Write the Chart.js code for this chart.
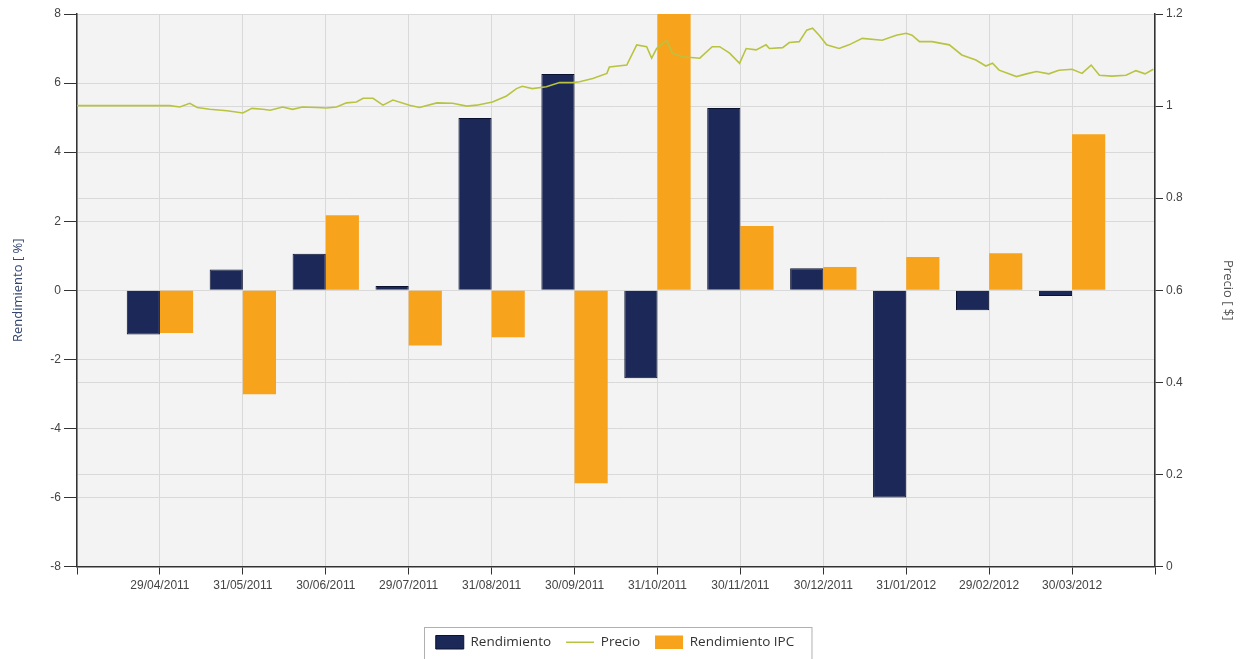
<!DOCTYPE html>
<html>
<head>
<meta charset="utf-8">
<script src="https://cdn.jsdelivr.net/npm/chart.js@4"></script>
<style>
  html, body { margin: 0; padding: 0; background: #fff; }
  #wrap { width: 1246px; height: 659px; position: relative; }
</style>
</head>
<body>
<div id="wrap"><canvas id="chart"></canvas></div>
<script>
// rendimiento mensual vs IPC, con precio diario en eje derecho

const fechas = ['29/04/2011', '31/05/2011', '30/06/2011', '29/07/2011', '31/08/2011', '30/09/2011',
  '31/10/2011', '30/11/2011', '30/12/2011', '31/01/2012', '29/02/2012', '30/03/2012'];

const rendimiento = [-1.28, 0.60, 1.06, 0.12, 4.99, 6.26, -2.55, 5.28, 0.64, -6.0, -0.58, -0.17];
const rendimientoIPC = [-1.24, -3.01, 2.17, -1.60, -1.36, -5.59, 8.0, 1.86, 0.67, 0.96, 1.07, 4.52];

// precio: posicion en meses (0 = 29/04/2011) y valor en $
const precioMes = [-1.0, 0.12, 0.24, 0.36, 0.45, 0.60, 0.81, 1.00, 1.11, 1.24, 1.33, 1.48, 1.60, 1.72,
  1.89, 2.01, 2.13, 2.25, 2.37, 2.45, 2.57, 2.69, 2.81, 3.01, 3.13, 3.34, 3.53, 3.70, 3.82, 4.01,
  4.18, 4.30, 4.37, 4.49, 4.66, 4.82, 4.98, 5.06, 5.22, 5.39, 5.42, 5.63, 5.75, 5.87, 5.93, 5.99,
  6.11, 6.18, 6.30, 6.51, 6.66, 6.75, 6.87, 6.99, 7.07, 7.19, 7.31, 7.35, 7.51, 7.59, 7.71, 7.80,
  7.87, 7.95, 8.04, 8.19, 8.31, 8.47, 8.71, 8.88, 9.00, 9.07, 9.16, 9.31, 9.52, 9.67, 9.84, 9.96,
  10.04, 10.12, 10.33, 10.45, 10.57, 10.72, 10.84, 11.00, 11.12, 11.23, 11.33, 11.48, 11.65, 11.77,
  11.88, 11.98];
const precio = [1.001, 1.001, 0.998, 1.006, 0.997, 0.993, 0.990, 0.985, 0.995, 0.993, 0.991, 0.998,
  0.993, 0.998, 0.997, 0.996, 0.998, 1.007, 1.009, 1.017, 1.017, 1.002, 1.013, 1.002, 0.997, 1.007,
  1.006, 1.000, 1.002, 1.009, 1.022, 1.038, 1.043, 1.038, 1.042, 1.051, 1.051, 1.053, 1.060, 1.071,
  1.085, 1.089, 1.133, 1.129, 1.104, 1.125, 1.143, 1.115, 1.107, 1.104, 1.129, 1.129, 1.115, 1.093,
  1.125, 1.122, 1.133, 1.125, 1.127, 1.138, 1.140, 1.165, 1.169, 1.154, 1.133, 1.125, 1.133, 1.147,
  1.143, 1.154, 1.158, 1.154, 1.140, 1.140, 1.133, 1.111, 1.100, 1.087, 1.093, 1.078, 1.064, 1.070,
  1.075, 1.070, 1.078, 1.080, 1.071, 1.089, 1.067, 1.065, 1.067, 1.077, 1.070, 1.080];

const ticksIzq = [-8, 8, 2];
const ticksDer = [0, 1.2, 0.2];

Chart.defaults.font.family = "'Liberation Sans', Arial, sans-serif";
Chart.defaults.font.size = 12;
Chart.defaults.color = '#444';

const plotBg = {
  id: 'plotBg',
  beforeDraw(chart) {
    const { ctx, chartArea: a } = chart;
    ctx.save();
    ctx.fillStyle = '#f3f3f3';
    ctx.fillRect(a.left, a.top, a.right - a.left, a.bottom - a.top);
    ctx.restore();
  }
};

const legendBorder = {
  id: 'legendBorder',
  afterLayout(chart) {
    // la leyenda del original queda algo a la izquierda del centro
    chart.legend.left -= 8;
    chart.legend.right -= 8;
  },
  afterDraw(chart) {
    const boxes = chart.legend.legendHitBoxes;
    if (!boxes || !boxes.length) return;
    const left = Math.min(...boxes.map(b => b.left)) - 12;
    const right = Math.max(...boxes.map(b => b.left + b.width)) + 17;
    const top = boxes[0].top - 9;
    const ctx = chart.ctx;
    ctx.save();
    ctx.strokeStyle = '#b0b0b0';
    ctx.lineWidth = 1;
    ctx.strokeRect(Math.round(left) + 0.5, Math.round(top) + 0.5, right - left, 45);
    ctx.restore();
  }
};

const gridColor = '#d9d9d9';
const axisColor = '#333';

new Chart(document.getElementById('chart'), {
  type: 'bar',
  data: {
    datasets: [
      {
        label: 'Rendimiento',
        data: rendimiento.map((v, i) => ({ x: i, y: v })),
        backgroundColor: '#1b2858',
        borderColor: '#0b1230',
        borderWidth: 1,
        yAxisID: 'y',
        pointStyle: 'rect',
        categoryPercentage: 0.8,
        barPercentage: 1.0
      },
      {
        type: 'line',
        label: 'Precio',
        data: precioMes.map((m, i) => ({ x: m, y: precio[i] })),
        borderColor: '#b9c340',
        backgroundColor: '#b9c340',
        borderWidth: 1.6,
        pointRadius: 0,
        pointStyle: 'line',
        tension: 0,
        yAxisID: 'y1',
        order: -1
      },
      {
        label: 'Rendimiento IPC',
        data: rendimientoIPC.map((v, i) => ({ x: i, y: v })),
        backgroundColor: '#f8a31c',
        borderWidth: 0,
        yAxisID: 'y',
        pointStyle: 'rect',
        categoryPercentage: 0.8,
        barPercentage: 1.0
      }
    ]
  },
  options: {
    responsive: true,
    maintainAspectRatio: false,
    animation: false,
    layout: { padding: { top: 14, left: 0, right: 0, bottom: 0 } },
    plugins: {
      legend: {
        position: 'bottom',
        labels: {
          usePointStyle: true,
          pointStyleWidth: 28,
          boxHeight: 14,
          padding: 15,
          color: '#333',
          font: { family: "'Open Sans', sans-serif", size: 13.5 },
          sort: (a, b) => a.datasetIndex - b.datasetIndex
        }
      },
      tooltip: { enabled: false }
    },
    scales: {
      x: {
        type: 'linear',
        offset: false,
        min: -1,
        max: 12,
        afterFit: s => { s.height = 54; },
        grid: { color: gridColor, tickColor: axisColor, tickLength: 8, offset: false },
        border: { color: axisColor, width: 1.5 },
        ticks: {
          stepSize: 1,
          autoSkip: false,
          maxRotation: 0,
          padding: 4,
          color: '#444',
          callback: v => (Number.isInteger(v) && v >= 0 && v < fechas.length) ? fechas[v] : ''
        }
      },
      y: {
        position: 'left',
        min: ticksIzq[0],
        max: ticksIzq[1],
        afterFit: s => { s.width = 77; },
        grid: { color: gridColor, tickColor: axisColor, tickLength: 13 },
        border: { color: axisColor, width: 1.5 },
        ticks: { stepSize: ticksIzq[2], padding: 3, color: '#444' },
        title: {
          display: true,
          text: 'Rendimiento [ %]',
          color: '#34466f',
          font: { family: "'Open Sans', sans-serif", size: 13 },
          padding: { top: 10, bottom: 0 }
        }
      },
      y1: {
        position: 'right',
        min: ticksDer[0],
        max: ticksDer[1],
        afterFit: s => { s.width = 91; },
        grid: { color: gridColor, tickColor: axisColor, tickLength: 8 },
        border: { color: axisColor, width: 1.5 },
        ticks: {
          stepSize: ticksDer[2],
          padding: 3,
          color: '#444',
          callback: v => String(+v.toFixed(1))
        },
        title: {
          display: true,
          text: 'Precio [ $]',
          color: '#555',
          font: { family: "'Open Sans', sans-serif", size: 13 },
          padding: { top: 10, bottom: 0 }
        }
      }
    }
  },
  plugins: [plotBg, legendBorder]
});
</script>
</body>
</html>
